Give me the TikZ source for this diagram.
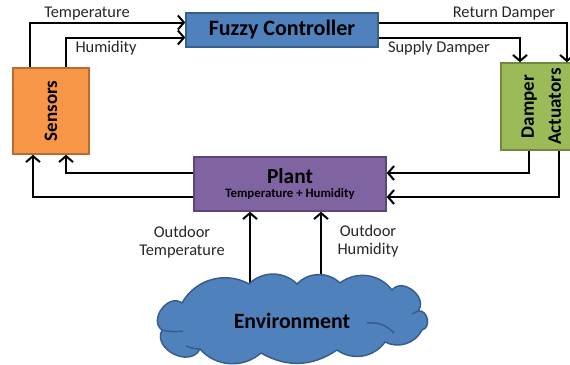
\documentclass[tikz,border=0pt]{standalone}
\usepackage{fontspec}
\setmainfont{Carlito}
\usetikzlibrary{arrows.meta,backgrounds}
\definecolor{ctrlblue}{HTML}{4F81BD}
\definecolor{ctrlblueline}{HTML}{385D8A}
\definecolor{sensorange}{HTML}{F79646}
\definecolor{sensorangeline}{HTML}{B66D31}
\definecolor{dampgreen}{HTML}{9BBB59}
\definecolor{dampgreenline}{HTML}{71893F}
\definecolor{plantpurple}{HTML}{8064A2}
\definecolor{plantpurpleline}{HTML}{5C4776}
\definecolor{labelgray}{HTML}{262626}
\begin{document}
\begin{tikzpicture}[x=0.5pt, y=-0.5pt, >={Straight Barb[length=3pt,width=7pt]},
    block/.style={draw, line width=0.75pt, inner sep=0pt},
    signal/.style={->, line width=1pt, black},
    tag/.style={text=labelgray, font=\fontsize{8.2}{9}\selectfont, align=center, inner sep=0pt},
    puff/.style={bend left=45},
    flatpuff/.style={bend left=32},
    endpuff/.style={bend left=90, looseness=1.3}]
  \useasboundingbox (0,0) rectangle (570,365);
  \clip (0,0) rectangle (570,365);
  % blocks
  \node[block, fill=ctrlblue, draw=ctrlblueline, minimum width=96pt, minimum height=17pt,
        font=\bfseries\fontsize{11}{13}\selectfont] (ctrl) at (282,30) {Fuzzy Controller};
  \node[block, fill=sensorange, draw=sensorangeline, minimum width=38pt, minimum height=43pt,
        font=\bfseries\fontsize{9.5}{11}\selectfont] (sens) at (51,111) {\rotatebox{90}{Sensors}};
  \node[block, fill=dampgreen, draw=dampgreenline, minimum width=41pt, minimum height=43.5pt,
        font=\bfseries\fontsize{9.5}{13.5}\selectfont] (damp) at (542,106.5)
       {\rotatebox{90}{\begin{tabular}{@{}c@{}}Damper\\Actuators\end{tabular}}};
  \node[block, fill=plantpurple, draw=plantpurpleline, minimum width=96pt, minimum height=27pt,
        align=center, font=\bfseries\fontsize{6.4}{7.2}\selectfont] (plant) at (290,184)
       {{\fontsize{10.7}{12}\selectfont Plant}\\Temperature + Humidity};
  % the cloud
  \filldraw[fill=ctrlblue, draw=ctrlblueline, line width=0.75pt]
    (182,303) to[puff] (249,284) to[puff] (297,284) to[puff] (340,283)
    to[puff] (392,290) to[endpuff] (418,311) to[endpuff] (422,330)
    to[puff] (385,342) to[puff] (337,350) to[flatpuff] (261,353)
    to[puff] (200,349) to[endpuff] (162,330) to[endpuff] (182,303) -- cycle;
  \draw[ctrlblueline, line width=0.75pt] (162,330) to[bend right=10] (183,331);
  \draw[ctrlblueline, line width=0.75pt] (200,349) to[bend left=10] (186,346);
  \draw[ctrlblueline, line width=0.75pt] (367,323) to[bend left=25] (394,333);
  \draw[ctrlblueline, line width=0.75pt] (418,311) to[bend right=10] (412,314);
  \node[font=\bfseries\fontsize{10.9}{13}\selectfont, inner sep=0pt] (env) at (292,321) {Environment};
  % signals
  \draw[signal] (sens.north -| 30,0) |- (ctrl.west |- 0,22.5);
  \draw[signal] (sens.north -| 66,0) |- (ctrl.west |- 0,37.5);
  \draw[signal] (ctrl.east |- 0,22.5) -| (damp.north -| 567,0);
  \draw[signal] (ctrl.east |- 0,37.5) -| (damp.north -| 520,0);
  \draw[signal] (damp.south -| 529,0) |- (plant.east |- 0,173);
  \draw[signal] (damp.south -| 559,0) |- (plant.east |- 0,197);
  \draw[signal] (plant.west |- 0,173) -| (sens.south -| 66,0);
  \draw[signal] (plant.west |- 0,197) -| (sens.south -| 33,0);
  \begin{scope}[on background layer]
    \draw[signal] (env.center -| 250,0) -- (plant.south -| 250,0);
    \draw[signal] (env.center -| 321,0) -- (plant.south -| 321,0);
  \end{scope}
  % labels
  \node[tag] (ltemp) at (87,14) {Temperature};
  \node[tag] (lhum) at (106,48) {Humidity};
  \node[tag] (lret) at (504,14) {Return Damper};
  \node[tag] (lsup) at (439,48) {Supply Damper};
  \node[tag] (lotemp) at (182,242) {Outdoor\\Temperature};
  \node[tag] (lohum) at (368,241) {Outdoor\\Humidity};
\end{tikzpicture}
\end{document}
